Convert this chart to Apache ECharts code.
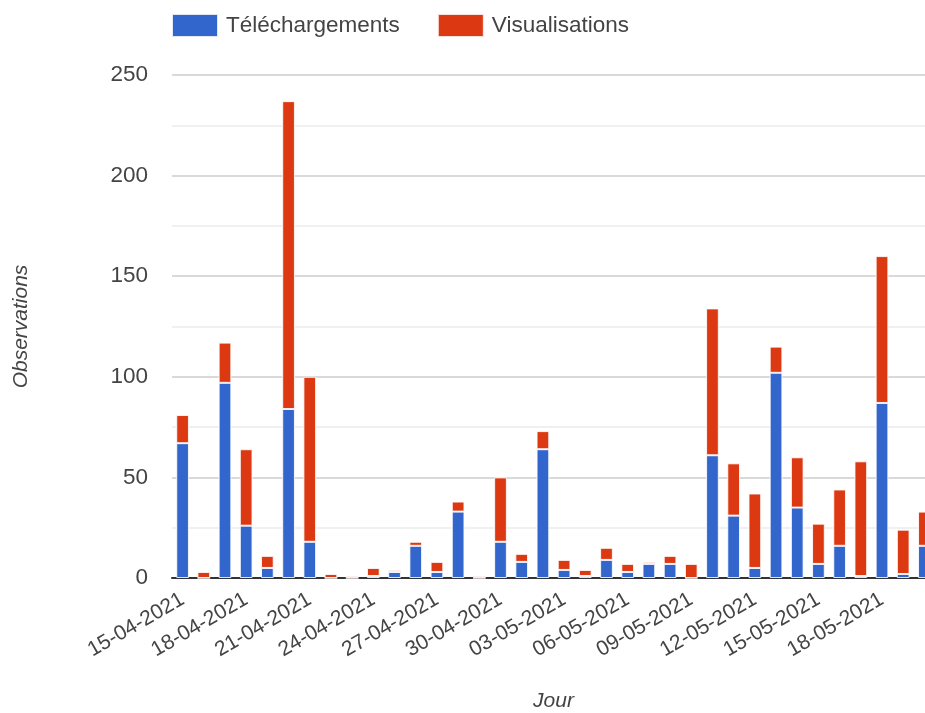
<!DOCTYPE html>
<html>
<head>
<meta charset="utf-8">
<script src="https://cdn.jsdelivr.net/npm/echarts@6/dist/echarts.min.js"></script>
<style>
  html, body { margin: 0; padding: 0; width: 925px; height: 713px; overflow: hidden; background: #fff; }
  #chart { width: 960px; height: 713px; }
</style>
</head>
<body>
<div id="chart"></div>
<script>
// jours (axe des catégories)
const jours = [
  '15-04-2021','16-04-2021','17-04-2021','18-04-2021','19-04-2021','20-04-2021',
  '21-04-2021','22-04-2021','23-04-2021','24-04-2021','25-04-2021','26-04-2021',
  '27-04-2021','28-04-2021','29-04-2021','30-04-2021','01-05-2021','02-05-2021',
  '03-05-2021','04-05-2021','05-05-2021','06-05-2021','07-05-2021','08-05-2021',
  '09-05-2021','10-05-2021','11-05-2021','12-05-2021','13-05-2021','14-05-2021',
  '15-05-2021','16-05-2021','17-05-2021','18-05-2021','19-05-2021','20-05-2021'
];
const telechargements = [67,0,97,26,5,84,18,0,0,1,3,16,3,33,0,18,8,64,4,1,9,3,7,7,0,61,31,5,102,35,7,16,1,87,2,16];
const visualisations  = [14,3,20,38,6,153,82,2,1,4,1,2,5,5,1,32,4,9,5,3,6,4,1,4,7,73,26,37,13,25,20,28,57,73,22,17];

const font = 'Liberation Sans, Arial, sans-serif';
const chart = echarts.init(document.getElementById('chart'));

const barStyle = { borderColor: 'rgba(255,255,255,0.85)', borderWidth: 1 };

chart.setOption({
  animation: false,
  textStyle: { fontFamily: font },
  color: ['#3366cc', '#dc3912'],
  legend: {
    left: 171, top: 13, padding: 0,
    itemWidth: 46, itemHeight: 23, itemGap: 37,
    icon: 'rect',
    textStyle: { fontSize: 22.5, color: '#444', padding: [0, 0, 0, 3] },
    data: ['Téléchargements', 'Visualisations']
  },
  grid: { left: 172, right: 25, top: 75, bottom: 135, outerBoundsMode: 'none' },
  xAxis: {
    type: 'category',
    data: jours,
    name: 'Jour',
    nameLocation: 'middle',
    nameGap: 113,
    nameTextStyle: { fontSize: 21, fontStyle: 'italic', color: '#444' },
    axisLine: { lineStyle: { color: '#333', width: 2 } },
    axisTick: { show: false },
    axisLabel: { interval: 2, rotate: 30, fontSize: 21, color: '#444', margin: 20 }
  },
  yAxis: {
    type: 'value',
    min: 0, max: 250, interval: 50,
    name: 'Observations',
    nameLocation: 'middle',
    nameGap: 140,
    nameRotate: 90,
    nameTextStyle: { fontSize: 21, fontStyle: 'italic', color: '#444' },
    axisLine: { show: false },
    axisTick: { show: false },
    axisLabel: { fontSize: 22.5, color: '#444', margin: 24 },
    splitLine: { lineStyle: { color: '#cccccc', width: 1.5 } },
    minorTick: { show: false, splitNumber: 2 },
    minorSplitLine: { show: true, lineStyle: { color: '#ebebeb', width: 1.5 } }
  },
  series: [
    { name: 'Téléchargements', type: 'bar', stack: 'total', barWidth: '60%', itemStyle: barStyle, data: telechargements },
    { name: 'Visualisations', type: 'bar', stack: 'total', barWidth: '60%', itemStyle: barStyle, data: visualisations }
  ]
});
</script>
</body>
</html>
